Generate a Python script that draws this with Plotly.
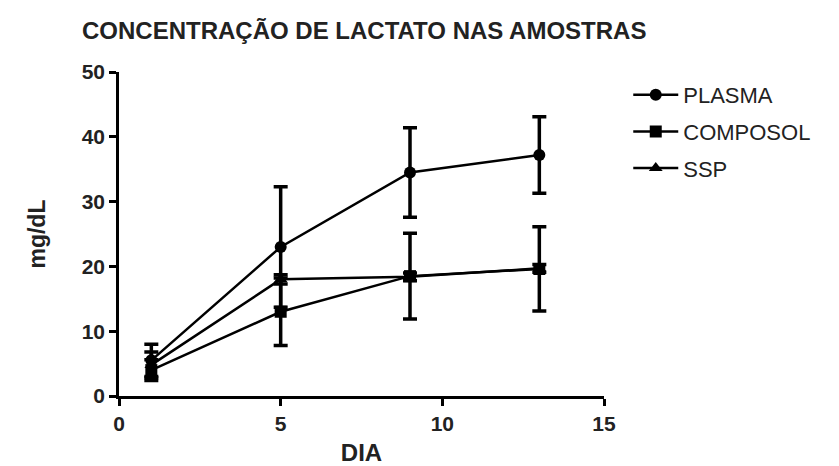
import plotly.graph_objects as go

dia = [1, 5, 9, 13]
plasma = [5.5, 23.0, 34.5, 37.2]
plasma_err = [2.5, 9.3, 6.9, 5.9]
composol = [4.0, 13.0, 18.5, 19.6]
composol_err = [1.6, 5.2, 6.6, 6.5]
ssp = [4.8, 18.0, 18.4, 19.7]
ssp_err = [2.0, 0.7, 0.6, 0.6]

series = [
    ("PLASMA", plasma, plasma_err, "circle"),
    ("COMPOSOL", composol, composol_err, "square"),
    ("SSP", ssp, ssp_err, "triangle-up"),
]

fig = go.Figure()
for i, (name, vals, err, sym) in enumerate(series):
    fig.add_trace(go.Scatter(
        x=dia, y=vals, name=name, mode="lines+markers",
        legendgroup=name,
        line=dict(color="black", width=2.5),
        marker=dict(symbol=sym, size=12, color="black"),
        error_y=dict(type="data", array=err, visible=True,
                     color="black", thickness=3.5, width=7),
    ))

axis_common = dict(
    showline=True, linecolor="black", linewidth=2.5,
    ticks="outside", ticklen=7, tickwidth=2.5, tickcolor="black",
    showgrid=False, zeroline=False, automargin=False,
    tickfont=dict(family="Liberation Sans", size=21, color="#222", weight="bold"),
)

fig.update_layout(
    width=839, height=466,
    margin=dict(l=119, r=235, t=72, b=70),
    paper_bgcolor="white", plot_bgcolor="white",
    title=dict(text="<b>CONCENTRAÇÃO DE LACTATO NAS AMOSTRAS</b>",
               x=82/839, xanchor="left", y=1 - 31/466, yanchor="middle",
               font=dict(family="Liberation Sans", size=24, color="#222")),
    xaxis=dict(range=[0, 15], tickvals=[0, 5, 10, 15],
               title=dict(text="<b>DIA</b>", standoff=14,
                          font=dict(family="Liberation Sans", size=24, color="#222")),
               **axis_common),
    yaxis=dict(range=[0, 50], tickvals=[0, 10, 20, 30, 40, 50],
               title=dict(text="<b>mg/dL</b>", standoff=30,
                          font=dict(family="Liberation Sans", size=23, color="#222")),
               **axis_common),
    legend=dict(x=1.05, y=1 - 2/324, xanchor="left", yanchor="top",
                font=dict(family="Liberation Sans", size=22, color="#222"),
                tracegroupgap=5, itemwidth=45, bgcolor="rgba(0,0,0,0)"),
    showlegend=True,
)

fig.write_html("out.html")
